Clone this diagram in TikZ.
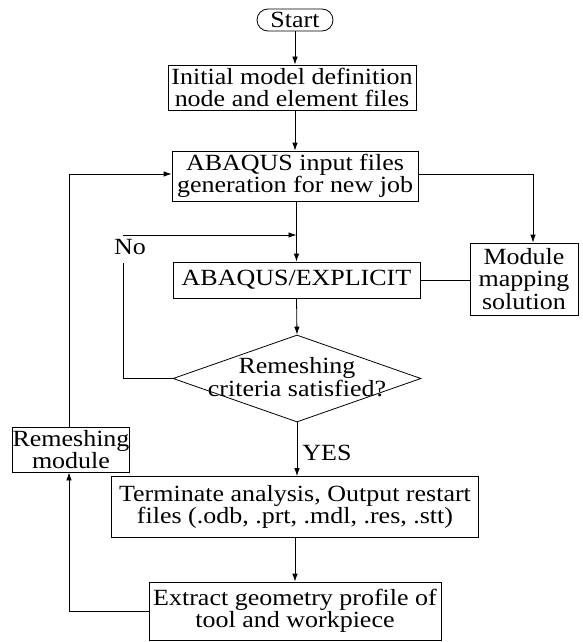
\documentclass[tikz,border=0pt]{standalone}
\usepackage{fontspec}
\setmainfont{Liberation Serif}[FakeStretch=1.12]
\usetikzlibrary{arrows.meta,shapes.geometric}
\begin{document}
\begin{tikzpicture}[x=1pt,y=-1pt,
  font=\fontsize{23.2}{22.5}\selectfont,
  box/.style={draw, line width=0.8pt, inner sep=0pt, align=center},
  arr/.style={-{Latex[length=8pt,width=5.5pt]}, line width=0.8pt},
  ln/.style={line width=0.8pt},
  lbl/.style={inner sep=0pt}]
\useasboundingbox (0,0) rectangle (582,642);
% nodes
\node[box, rounded corners=11pt, minimum width=76pt, minimum height=22pt] (start) at (295,20) {Start};
\node[box, minimum width=248pt, minimum height=45pt] (init) at (292,87.5) {Initial model definition\\node and element files};
\node[box, minimum width=246pt, minimum height=50pt] (input) at (295,176) {ABAQUS input files\\generation for new job};
\node[box, minimum width=247pt, minimum height=36pt] (expl) at (296.5,280) {ABAQUS/EXPLICIT};
\node[box, minimum width=108pt, minimum height=72pt] (module) at (524,279) {Module\\mapping\\solution};
\node[draw, diamond, line width=0.8pt, minimum width=248pt, minimum height=87pt, inner sep=0pt] (dia) at (297,378.5) {};
\node[lbl, align=center] (dtext) at (297,377) {Remeshing\\criteria satisfied?};
\node[box, minimum width=116pt, minimum height=45pt] (remesh) at (71,449.5) {Remeshing\\module};
\node[box, minimum width=367pt, minimum height=61pt] (term) at (295,507) {Terminate analysis, Output restart\\files (.odb, .prt, .mdl, .res, .stt)};
\node[box, minimum width=292pt, minimum height=58pt] (extract) at (295,611) {Extract geometry profile of\\tool and workpiece};
\node[lbl] (no) at (130,247) {No};
\node[lbl] (yes) at (327,453) {YES};
% coordinates
\coordinate (lt) at (69,174);
\coordinate (rt) at (533,174);
\coordinate (noA) at (123,235);
\coordinate (noB) at (123,263);
\coordinate (lb) at (69,611);
% connectors
\draw[arr] (start.south) -- (start.south |- init.north);
\draw[arr] (init.south -| start.south) -- (input.north -| start.south);
\draw[arr] (remesh.north -| lt) -- (lt) -- (lt -| input.west);
\draw[ln] (input.east |- rt) -- (rt);
\draw[arr] (rt) -- (rt |- module.north);
\draw[arr] (input.south -| expl.north) -- (expl.north);
\draw[arr] (noA) -- (noA -| expl.north);
\draw[ln] (noB) -- (noB |- dia.west) -- (dia.west);
\draw[ln] (expl.east) -- (expl.east -| module.west);
\draw[arr] (expl.south) -- (dia.north);
\draw[arr] (dia.south) -- (dia.south |- term.north);
\draw[arr] (term.south) -- (extract.north);
\draw[arr] (extract.west) -- (lb) -- (lb |- remesh.south);
\end{tikzpicture}
\end{document}
